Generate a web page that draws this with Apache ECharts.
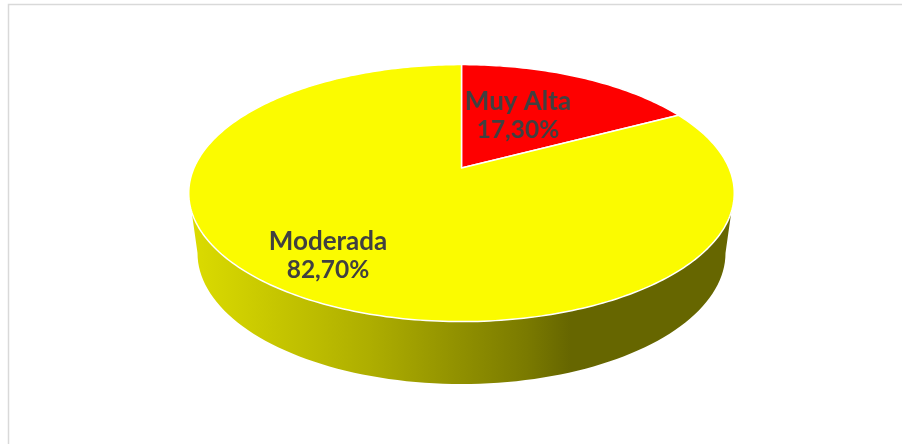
<!DOCTYPE html>
<html>
<head>
<meta charset="utf-8">
<style>html,body{margin:0;padding:0;background:#fff}#chart{width:902px;height:444px}</style>
<script src="https://cdn.jsdelivr.net/npm/echarts@6/dist/echarts.min.js"></script>
</head>
<body>
<div id="chart"></div>
<script>
const categories = ['Muy Alta', 'Moderada'];
const values = [17.3, 82.7];
const sliceColors = ['#fe0000', '#fbfb00'];
const labelCenters = [[518, 116], [328, 256]];

// Perspective view of the circular disc (u right, v away from the viewer)
const disc = { cx: 461.5, apexY: 168, A: 267.5, b: -90.8, k: 0.1953 };
// Lower rim of the disc, seen as an ellipse
const rim = { cx: 461.5, cy: 253, rx: 264, ry: 131 };
const total = values.reduce((a, b) => a + b, 0);

function project(frac) {
  const t = frac * 2 * Math.PI, u = Math.sin(t), v = Math.cos(t);
  const w = 1 + disc.k * v;
  return [disc.cx + disc.A * u / w, (disc.apexY + disc.b * v) / w];
}
function sliceRange(i) {
  let s = 0;
  for (let j = 0; j < i; j++) s += values[j];
  return [s / total, (s + values[i]) / total];
}
function sliceItem(params, api) {
  const i = params.dataIndex, r = sliceRange(i), pts = [[disc.cx, disc.apexY]];
  const n = Math.max(2, Math.ceil((r[1] - r[0]) * 360));
  for (let j = 0; j <= n; j++) pts.push(project(r[0] + (r[1] - r[0]) * j / n));
  const pct = api.value(0).toFixed(2).replace('.', ',') + '%';
  return { type: 'group', children: [
    { type: 'polygon', shape: { points: pts },
      style: { fill: sliceColors[i], stroke: '#ffffff', lineWidth: 1.5, lineJoin: 'round' } },
    { type: 'text', z2: 5, style: {
        x: labelCenters[i][0], y: labelCenters[i][1],
        text: '{n|' + categories[i] + '}\n{v|' + pct + '}',
        align: 'center', verticalAlign: 'middle',
        rich: {
          n: { fill: '#404040', fontFamily: 'Lato', fontWeight: 'bold', fontSize: 26, lineHeight: 29, align: 'center' },
          v: { fill: '#404040', fontFamily: 'Lato', fontWeight: 'bold', fontSize: 24.5, lineHeight: 29, align: 'center' }
        } } }
  ]};
}
function wallItem() {
  const pts = [], sideY = 200;
  pts.push([disc.cx - 271.5, sideY]);
  for (let a = 0; a <= 180; a += 2) {
    const t = a * Math.PI / 180;
    pts.push([rim.cx - rim.rx * Math.cos(t), rim.cy + rim.ry * Math.sin(t)]);
  }
  pts.push([disc.cx + 271.5, sideY]);
  return { type: 'polygon', shape: { points: pts }, style: {
    fill: { type: 'linear', x: 0, y: 0, x2: 1, y2: 0, colorStops: [
      { offset: 0, color: '#dcdc00' }, { offset: 0.33, color: '#aeae00' },
      { offset: 0.62, color: '#7a7a00' }, { offset: 0.70, color: '#666600' },
      { offset: 1, color: '#666600' } ] } } };
}
const chart = echarts.init(document.getElementById('chart'), null, { renderer: 'canvas' });
chart.setOption({
  animation: false,
  backgroundColor: '#ffffff',
  graphic: [{ type: 'polyline', silent: true,
    shape: { points: [[8.5, 450], [8.5, 4.5], [910, 4.5]] },
    style: { stroke: '#d9d9d9', lineWidth: 1.5, fill: null } }],
  series: [
    { type: 'custom', coordinateSystem: 'none', silent: true, z: 1, data: [total], renderItem: wallItem },
    { type: 'custom', coordinateSystem: 'none', silent: true, z: 2, data: values.map(v => [v]), renderItem: sliceItem }
  ]
});
</script>
</body>
</html>
